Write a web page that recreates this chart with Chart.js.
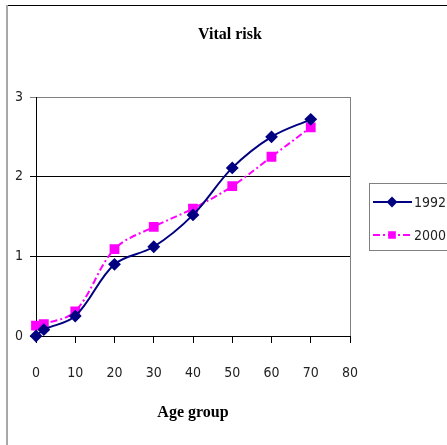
<!DOCTYPE html>
<html>
<head>
<meta charset="utf-8">
<script src="https://cdn.jsdelivr.net/npm/chart.js@4"></script>
<style>
html,body{margin:0;padding:0;background:#fff;}
</style>
</head>
<body>
<canvas id="c" width="447" height="445"></canvas>
<script>
/* values */
var AGES=[0,2,10,20,30,40,50,60,70];
var RISK_1992=[0,0.08,0.25,0.9,1.12,1.52,2.11,2.5,2.72];
var RISK_2000=[0.13,0.15,0.31,1.09,1.37,1.6,1.88,2.25,2.62];
var SERIES=['1992','2000'];
var X_TICKS=[0,10,20,30,40,50,60,70,80];
var Y_TICKS=[0,1,2,3];
var TITLE='Vital risk',X_TITLE='Age group';

var NARROW="'Liberation Sans Narrow','DejaVu Sans Condensed','Liberation Sans',sans-serif";
var SERIF="'Liberation Serif','DejaVu Serif',serif";

function pts(ys){return AGES.map(function(a,i){return {x:a,y:ys[i]};});}

/* frame, title and boxed legend the way the old spreadsheet chart had them */
var frame={
  id:'frame',
  beforeDraw:function(ch){
    var c=ch.ctx,a=ch.chartArea;c.save();
    c.strokeStyle='#000';c.lineWidth=1;
    c.beginPath();c.moveTo(7,5.5);c.lineTo(447,5.5);c.stroke();
    c.strokeStyle='#a8a8a8';c.lineWidth=2;
    c.beginPath();c.moveTo(7,5);c.lineTo(7,445);c.stroke();
    c.strokeStyle='#808080';c.lineWidth=1;
    c.beginPath();c.moveTo(Math.round(a.right)+0.5,a.top);c.lineTo(Math.round(a.right)+0.5,a.bottom);c.stroke();
    c.fillStyle='#000';c.font='bold 16px '+SERIF;c.textAlign='center';c.textBaseline='middle';
    c.fillText(TITLE,230,35);
    c.restore();
  },
  afterDraw:function(ch){
    var c=ch.ctx;c.save();
    c.strokeStyle='#808080';c.lineWidth=1;
    c.strokeRect(369.5,183.5,90,67);
    ch.data.datasets.forEach(function(ds,i){
      var y=202+i*33;
      c.strokeStyle=ds.borderColor;c.lineWidth=2;c.setLineDash(ds.borderDash||[]);
      c.beginPath();c.moveTo(373,y);c.lineTo(412,y);c.stroke();
      c.setLineDash([]);
      c.fillStyle=ds.backgroundColor;c.strokeStyle=ds.borderColor;
      Chart.helpers.drawPoint(c,{pointStyle:ds.pointStyle,rotation:0,radius:4,borderWidth:1},392,y);
      c.fillStyle='#222';c.font='14px '+NARROW;c.textAlign='left';c.textBaseline='middle';
      c.fillText(SERIES[i],414,y+1);
    });
    c.restore();
  }
};

new Chart(document.getElementById('c'),{
  type:'line',
  data:{datasets:[
    {label:SERIES[0],data:pts(RISK_1992),borderColor:'#000080',backgroundColor:'#000080',borderWidth:2,
     pointStyle:'rectRot',pointRadius:5,tension:0.35,clip:false},
    {label:SERIES[1],data:pts(RISK_2000),borderColor:'#ff00ff',backgroundColor:'#ff00ff',borderWidth:2,
     borderDash:[7,3,2,3],pointStyle:'rect',pointRadius:5.5,tension:0.35,clip:false}
  ]},
  options:{
    responsive:false,animation:false,devicePixelRatio:1,
    layout:{padding:{left:14,right:97,top:97,bottom:0}},
    plugins:{legend:{display:false},title:{display:false},tooltip:{enabled:false}},
    scales:{
      x:{type:'linear',min:0,max:80,
        afterBuildTicks:function(s){s.ticks=X_TICKS.map(function(v){return {value:v};});},
        afterFit:function(s){s.height=109;},
        border:{color:'#000',width:1},
        grid:{drawOnChartArea:false,drawTicks:true,tickLength:7,color:'#000'},
        ticks:{padding:22,color:'#222',font:{family:NARROW,size:14},maxRotation:0},
        title:{display:true,text:X_TITLE,color:'#000',font:{family:SERIF,size:16,weight:'bold'},padding:{top:0,bottom:23}}
      },
      y:{min:0,max:3,
        afterBuildTicks:function(s){s.ticks=Y_TICKS.map(function(v){return {value:v};});},
        afterFit:function(s){s.width=22;},
        border:{color:'#000',width:1},
        grid:{drawTicks:true,tickLength:6,color:function(ctx){return ctx.tick&&ctx.tick.value===3?'#808080':'#000';}},
        ticks:{padding:7,color:'#222',font:{family:NARROW,size:14}}
      }
    }
  },
  plugins:[frame]
});
</script>
</body>
</html>
